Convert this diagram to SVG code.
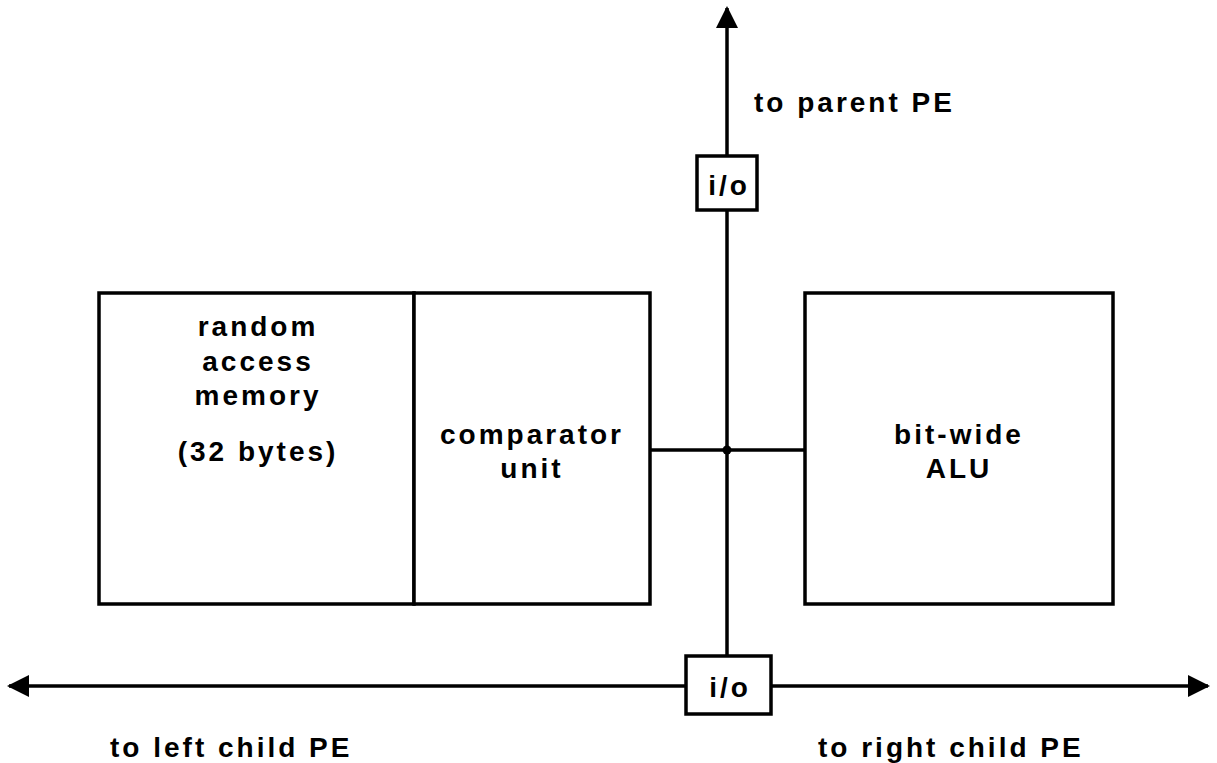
<svg xmlns="http://www.w3.org/2000/svg" width="1217" height="763" viewBox="0 0 1217 763">
  <style>
    .box { fill: #fff; stroke: #000; stroke-width: 3.5; }
    .wire { fill: none; stroke: #000; stroke-width: 3.5; }
    .lbl { font-family: "Liberation Sans", Arial, sans-serif; font-size: 28px; font-weight: bold; letter-spacing: 3px; fill: #000; }
    .mid { text-anchor: middle; }
  </style>
  <defs>
    <marker id="head" viewBox="0 0 22 22" refX="20" refY="11" markerWidth="22" markerHeight="22" markerUnits="userSpaceOnUse" orient="auto-start-reverse">
      <path d="M0,0 L22,11 L0,22 Z" fill="#000"/>
    </marker>
  </defs>

  <g id="connectors">
    <!-- vertical bus: parent link down to the lower i/o port -->
    <line class="wire" x1="727" y1="8" x2="727" y2="656" marker-start="url(#head)"/>
    <!-- horizontal child links -->
    <line class="wire" x1="9" y1="686" x2="1208" y2="686" marker-start="url(#head)" marker-end="url(#head)"/>
    <!-- comparator to ALU -->
    <line class="wire" x1="650" y1="450" x2="805" y2="450"/>
    <circle cx="727" cy="450" r="4.5" fill="#000"/>
  </g>

  <g id="ram">
    <rect class="box" x="99" y="293" width="315" height="311"/>
    <text class="lbl mid" x="258" y="336">random</text>
    <text class="lbl mid" x="258" y="371">access</text>
    <text class="lbl mid" x="258" y="405">memory</text>
    <text class="lbl mid" x="258" y="461">(32 bytes)</text>
  </g>

  <g id="comparator">
    <rect class="box" x="414" y="293" width="236" height="311"/>
    <text class="lbl mid" x="532" y="444">comparator</text>
    <text class="lbl mid" x="532" y="478">unit</text>
  </g>

  <g id="alu">
    <rect class="box" x="805" y="293" width="308" height="311"/>
    <text class="lbl mid" x="959" y="444">bit-wide</text>
    <text class="lbl mid" x="959" y="478">ALU</text>
  </g>

  <g id="io-top">
    <rect class="box" x="697" y="156" width="60" height="54"/>
    <text class="lbl mid" x="729" y="195">i/o</text>
  </g>

  <g id="io-bottom">
    <rect class="box" x="686" y="656" width="85" height="58"/>
    <text class="lbl mid" x="730" y="697">i/o</text>
  </g>

  <g id="labels">
    <text class="lbl" x="754" y="112">to parent PE</text>
    <text class="lbl" x="110" y="757">to left child PE</text>
    <text class="lbl" x="818" y="757">to right child PE</text>
  </g>
</svg>
